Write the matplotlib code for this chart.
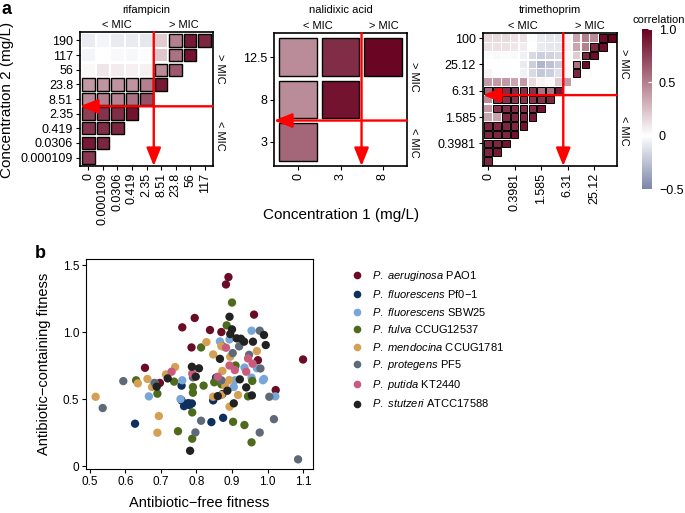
import numpy as np
import matplotlib
matplotlib.use("Agg")
import matplotlib.pyplot as plt
from matplotlib.colors import LinearSegmentedColormap, Normalize
from matplotlib.patches import Rectangle
from matplotlib.lines import Line2D
from matplotlib.cm import ScalarMappable
import matplotlib.transforms as mtransforms

plt.rcParams['font.family'] = ['Liberation Sans', 'DejaVu Sans']
plt.rcParams['mathtext.fontset'] = 'custom'
plt.rcParams['mathtext.rm'] = 'Liberation Sans'
plt.rcParams['mathtext.it'] = 'Liberation Sans:italic'

W, H = 685, 513

# ---------------- panel a data ----------------
# rows go bottom -> top, row i holds columns 0..i
rif_y = ["0.000109", "0.0306", "0.419", "2.35", "8.51", "23.8", "56", "117", "190"]
rif_x = ["0", "0.000109", "0.0306", "0.419", "2.35", "8.51", "23.8", "56", "117"]
rif_vals = [
    [0.78],
    [0.90, 0.85],
    [0.80, 0.82, 0.85],
    [0.75, 0.80, 0.82, 0.92],
    [0.45, 0.50, 0.48, 0.55, 0.68],
    [0.40, 0.42, 0.42, 0.42, 0.50, 0.90],
    [0.03, 0.10, 0.08, 0.06, 0.06, 0.45, 0.65],
    [-0.04, 0.00, -0.02, -0.03, -0.01, 0.22, 0.55, 0.92],
    [-0.08, -0.04, -0.08, -0.08, -0.10, 0.20, 0.50, 0.90, 0.85],
]
rif_sig = [
    [1], [1, 1], [1, 1, 1], [1, 1, 1, 1], [1, 1, 1, 1, 1], [1, 1, 1, 1, 1, 1],
    [0, 0, 0, 0, 0, 1, 1],
    [0, 0, 0, 0, 0, 0, 1, 1],
    [0, 0, 0, 0, 0, 0, 1, 1, 1],
]
rif_mic = (5, 4)   # first column / row above MIC

nal_y = ["3", "8", "12.5"]
nal_x = ["0", "3", "8"]
nal_vals = [
    [0.60],
    [0.45, 0.92],
    [0.45, 0.82, 0.98],
]
nal_sig = [[1], [1, 1], [1, 1, 1]]
nal_mic = (2, 1)

tri_y = ["0.1585", "0.2512", "0.3981", "0.631", "1", "1.585", "2.512", "3.981",
         "6.31", "10", "15.85", "25.12", "39.81", "63.1", "100"]
tri_x = ["0", "0.1", "0.1585", "0.3981", "0.631", "1", "1.585", "2.512", "3.981",
         "6.31", "10", "15.85", "25.12", "39.81", "63.1"]
tri_vals = [
    [0.85],
    [0.85, 0.90],
    [0.85, 0.85, 0.92],
    [0.85, 0.85, 0.85, 0.92],
    [0.85, 0.85, 0.85, 0.85, 0.92],
    [0.35, 0.35, 0.85, 0.85, 0.85, 0.90],
    [0.40, 0.80, 0.82, 0.82, 0.82, 0.82, 0.92],
    [0.45, 0.80, 0.80, 0.80, 0.80, 0.80, 0.80, 0.85],
    [0.60, 0.82, 0.82, 0.82, 0.82, 0.80, 0.55, 0.55, 0.90],
    [0.40, 0.40, 0.40, 0.35, 0.40, 0.15, 0.05, 0.02, 0.20, 0.40],
    [0.05, 0.00, 0.00, 0.00, -0.05, -0.15, -0.22, -0.20, -0.12, 0.02, 0.85],
    [0.00, 0.00, 0.00, 0.00, -0.08, -0.20, -0.30, -0.25, -0.20, 0.00, 0.55, 0.95],
    [0.02, 0.03, 0.02, -0.02, -0.06, -0.15, -0.20, -0.18, -0.15, 0.02, 0.20, 0.85, 0.95],
    [0.12, 0.12, 0.12, 0.10, 0.08, 0.00, -0.08, -0.10, -0.10, 0.05, 0.35, 0.50, 0.85, 0.95],
    [0.15, 0.15, 0.15, 0.12, 0.12, 0.02, -0.08, -0.10, -0.10, 0.05, 0.35, 0.50, 0.45, 0.95, 1.00],
]
tri_sig = [
    [1], [1, 1], [1, 1, 1], [1, 1, 1, 1], [1, 1, 1, 1, 1],
    [0, 0, 1, 1, 1, 1],
    [0, 1, 1, 1, 1, 1, 1],
    [0, 1, 1, 1, 1, 1, 1, 1],
    [1, 1, 1, 1, 1, 1, 1, 1, 1],
    [0] * 10,
    [0] * 10 + [1],
    [0] * 10 + [1, 1],
    [0] * 11 + [1, 1],
    [0] * 12 + [1, 1],
    [0] * 13 + [1, 1],
]
tri_mic = (9, 8)
tri_ticks = [0, 3, 6, 9, 12]
tri_yticks = [2, 5, 8, 11, 14]

# ---------------- panel b data ----------------
strains = [
    (r"$\mathit{P.\ aeruginosa}$ PAO1", "#6b0c26"),
    (r"$\mathit{P.\ fluorescens}$ Pf0$-$1", "#0f2f5f"),
    (r"$\mathit{P.\ fluorescens}$ SBW25", "#78a6d8"),
    (r"$\mathit{P.\ fulva}$ CCUG12537", "#4d6a1d"),
    (r"$\mathit{P.\ mendocina}$ CCUG1781", "#d4a056"),
    (r"$\mathit{P.\ protegens}$ PF5", "#5e6a78"),
    (r"$\mathit{P.\ putida}$ KT2440", "#c95c7d"),
    (r"$\mathit{P.\ stutzeri}$ ATCC17588", "#222222"),
]
free_fit = [
    [0.89, 0.883, 0.962, 0.795, 0.76, 0.838, 0.87, 0.786, 0.655, 0.697, 0.973, 1.1, 1.023],
    [0.627, 0.758, 0.758, 0.765, 0.777, 0.787, 0.842, 0.847, 0.875, 0.873, 0.855, 0.78],
    [0.666, 0.68, 0.76, 0.755, 0.866, 0.893, 0.955, 0.97, 0.935, 0.905, 0.987, 0.99, 1.022, 0.955, 0.908, 0.86],
    [0.63, 0.737, 0.69, 0.748, 0.788, 0.788, 0.79, 0.79, 0.82, 0.813, 0.85, 0.9, 0.885, 0.873, 0.87,
     0.903, 0.91, 0.935, 0.945, 0.955, 0.957],
    [0.516, 0.635, 0.662, 0.675, 0.694, 0.69, 0.714, 0.74, 0.828, 0.847, 0.87, 0.895, 0.873, 0.847,
     0.87, 0.893, 0.917, 0.97, 0.892, 0.881],
    [0.594, 0.536, 0.813, 0.797, 0.79, 0.902, 0.92, 0.978, 0.98, 0.948, 1.005, 1.018, 0.978, 1.086, 0.683, 0.87],
    [0.73, 0.788, 0.883, 0.86, 0.893, 0.908, 0.945, 0.958, 0.94],
    [0.782, 0.688, 0.719, 0.787, 0.807, 0.798, 0.893, 0.9, 0.895, 0.866, 0.913, 0.925, 0.934, 0.959,
     0.99, 0.995, 0.922, 0.94, 0.956, 0.905, 0.887, 0.86],
]
ab_fit = [
    [1.41, 1.355, 1.13, 1.105, 1.035, 1.015, 1.0, 0.885, 0.733, 0.62, 0.79, 0.795, 0.567],
    [0.316, 0.6, 0.49, 0.447, 0.47, 0.467, 0.328, 0.49, 0.36, 0.537, 0.66, 0.455],
    [0.52, 0.62, 0.64, 0.50, 0.93, 0.945, 1.01, 0.73, 0.735, 0.59, 0.64, 0.65, 0.52, 0.66, 0.64, 0.66],
    [0.64, 0.63, 0.54, 0.26, 0.204, 0.40, 0.547, 0.59, 0.60, 0.885, 0.625, 1.22, 1.05, 0.895, 0.61,
     0.33, 0.75, 0.306, 0.52, 0.177, 0.635],
    [0.517, 0.617, 0.65, 0.59, 0.373, 0.249, 0.684, 0.739, 0.925, 0.833, 0.895, 0.816, 0.71, 0.517,
     0.53, 0.443, 0.53, 0.858, 0.642, 0.6],
    [0.634, 0.433, 0.338, 0.251, 0.662, 0.843, 0.893, 1.01, 0.728, 0.83, 0.517, 0.35, 0.25, 0.05, 0.62, 0.64],
    [0.704, 0.69, 0.883, 0.667, 0.75, 0.716, 0.803, 0.764, 0.704],
    [0.114, 0.592, 0.654, 0.741, 0.729, 0.667, 1.114, 1.02, 0.985, 0.8, 0.953, 0.95, 0.928, 0.928,
     0.978, 0.903, 0.647, 0.587, 0.527, 0.468, 0.562, 0.522],
]

# colour scale  -0.5 .. 0 .. 1
cmap = LinearSegmentedColormap.from_list(
    "corr", [(0, "#7c85a8"), (1 / 3, "#ffffff"), (1, "#67001f")])
norm = Normalize(-0.5, 1.0)

fig = plt.figure(figsize=(W / 100, H / 100), dpi=100)


def fbox(l, t, r, b):
    return [l / W, 1 - b / H, (r - l) / W, (b - t) / H]


def heatmap(ax, vals, sig, xlab, ylab, mic, size, edge_lw, xt=None, yt=None):
    nx, ny = len(xlab), len(ylab)
    for i, row in enumerate(vals):
        for j, v in enumerate(row):
            ax.add_patch(Rectangle((j - size / 2, i - size / 2), size, size,
                                   facecolor=cmap(norm(v)),
                                   edgecolor="black" if sig[i][j] else "none", lw=edge_lw))
    ax.set_xlim(-0.58, nx - 0.42)
    ax.set_ylim(-0.58, ny - 0.42)
    xt = list(range(nx)) if xt is None else xt
    yt = list(range(ny)) if yt is None else yt
    ax.set_xticks(xt)
    ax.set_xticklabels([xlab[k] for k in xt], rotation=90, fontsize=9)
    ax.set_yticks(yt)
    ax.set_yticklabels([ylab[k] for k in yt], fontsize=9)
    ax.tick_params(length=3, width=0.8, pad=2)
    for s in ax.spines.values():
        s.set_linewidth(1.2)

    mx, my = mic[0] - 0.5, mic[1] - 0.5
    ap = dict(arrowstyle="-|>,head_length=0.55,head_width=0.22", color="red",
              lw=1.7, shrinkA=0, shrinkB=0, mutation_scale=20)
    ax.annotate("", xy=(mx, 0), xytext=(mx, 1),
                xycoords=("data", "axes fraction"), textcoords=("data", "axes fraction"),
                arrowprops=ap, annotation_clip=False)
    ax.annotate("", xy=(0, my), xytext=(1, my),
                xycoords=("axes fraction", "data"), textcoords=("axes fraction", "data"),
                arrowprops=ap, annotation_clip=False)

    x0, x1 = ax.get_xlim()
    y0, y1 = ax.get_ylim()
    tx = mtransforms.blended_transform_factory(ax.transData, ax.transAxes)
    ax.text((x0 + mx) / 2, 1.055, "< MIC", transform=tx, ha="center", va="center", fontsize=8)
    ax.text((mx + x1) / 2, 1.055, "> MIC", transform=tx, ha="center", va="center", fontsize=8)
    ty = mtransforms.blended_transform_factory(ax.transAxes, ax.transData)
    ax.text(1.055, (my + y1) / 2, "> MIC", transform=ty, ha="center", va="center",
            rotation=270, fontsize=8)
    ax.text(1.055, (y0 + my) / 2, "< MIC", transform=ty, ha="center", va="center",
            rotation=270, fontsize=8)


ax1 = fig.add_axes(fbox(80, 32, 213, 166))
heatmap(ax1, rif_vals, rif_sig, rif_x, rif_y, rif_mic, 0.84, 1.0)
ax2 = fig.add_axes(fbox(274, 33, 407, 166))
heatmap(ax2, nal_vals, nal_sig, nal_x, nal_y, nal_mic, 0.9, 1.0)
ax3 = fig.add_axes(fbox(483, 33, 617, 166))
heatmap(ax3, tri_vals, tri_sig, tri_x, tri_y, tri_mic, 0.84, 0.7, tri_ticks, tri_yticks)

fig.text(146 / W, 1 - 10 / H, "rifampicin", ha="center", va="center", fontsize=8)
fig.text(341 / W, 1 - 10 / H, "nalidixic acid", ha="center", va="center", fontsize=8)
fig.text(550 / W, 1 - 10 / H, "trimethoprim", ha="center", va="center", fontsize=8)
fig.text(7 / W, 1 - 100 / H, "Concentration 2 (mg/L)", rotation=90, ha="center",
         va="center", fontsize=11)
fig.text(341 / W, 1 - 215 / H, "Concentration 1 (mg/L)", ha="center", va="center", fontsize=11)

cax = fig.add_axes(fbox(642, 29, 652, 189))
cb = fig.colorbar(ScalarMappable(norm=norm, cmap=cmap), cax=cax, ticks=[-0.5, 0, 0.5, 1.0])
cb.ax.set_yticklabels(["\u22120.5", "0", "0.5", "1.0"], fontsize=9)
cb.outline.set_visible(False)
cb.ax.tick_params(direction="in", color="white", length=3, pad=5)
fig.text(659 / W, 1 - 20 / H, "correlation", ha="center", va="center", fontsize=8)

fig.text(2 / W, 1 - 1 / H, "a", fontweight="bold", fontsize=13, ha="left", va="top")
fig.text(35 / W, 1 - 253 / H, "b", fontweight="bold", fontsize=13, ha="left", va="center")

# ---------------- panel b ----------------
axb = fig.add_axes(fbox(86, 259, 313, 469))
handles = []
for (lab, col), xs, ys in zip(strains, free_fit, ab_fit):
    axb.scatter(xs, ys, s=36, color=col, edgecolors="none")
    handles.append(Line2D([], [], ls="none", marker="o", markersize=5.5,
                          markerfacecolor=col, markeredgecolor="none", label=lab))
axb.set_xlim(0.489, 1.128)
axb.set_ylim(-0.022, 1.545)
axb.set_xticks([0.5, 0.6, 0.7, 0.8, 0.9, 1.0, 1.1])
axb.set_xticklabels(["0.5", "0.6", "0.7", "0.8", "0.9", "1.0", "1.1"], fontsize=8.5)
axb.set_yticks([0, 0.5, 1.0, 1.5])
axb.set_yticklabels(["0", "0.5", "1.0", "1.5"], fontsize=8.5)
axb.tick_params(length=3, width=0.8, pad=2)
axb.set_xlabel("Antibiotic\u2212free fitness", fontsize=10.5, labelpad=6)
axb.set_ylabel("Antibiotic\u2212containing fitness", fontsize=10.5, labelpad=8)

fig.legend(handles=handles, loc="upper left", bbox_to_anchor=(346 / W, 1 - 263 / H),
           frameon=False, fontsize=8, handlelength=1.0, handletextpad=0.8,
           labelspacing=0.5, borderpad=0)

fig.savefig("out.png", dpi=100)
